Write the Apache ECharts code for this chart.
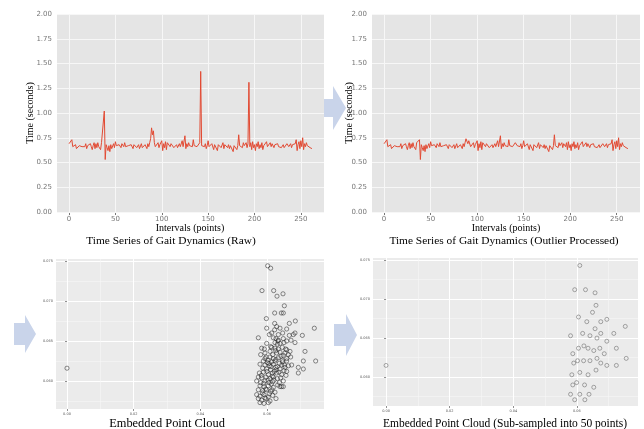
<!DOCTYPE html>
<html>
<head>
<meta charset="utf-8">
<title>Gait Dynamics</title>
<script src="https://cdn.jsdelivr.net/npm/echarts@6/dist/echarts.min.js"></script>
<style>body{margin:0;background:#fff;}</style>
</head>
<body>
<div id="chart" style="width:644px;height:429px;"></div>
<script>
// stride intervals (seconds), raw
var rawTimes = [
  0.69, 0.68, 0.70, 0.73, 0.66, 0.67, 0.65, 0.68, 0.64, 0.66,
  0.63, 0.67, 0.65, 0.68, 0.66, 0.64, 0.68, 0.66, 0.69, 0.64,
  0.67, 0.68, 0.65, 0.69, 0.66, 0.63, 0.67, 0.70, 0.64, 0.69,
  0.65, 0.70, 0.66, 0.68, 0.63, 0.70, 0.71, 0.72, 1.02, 0.53,
  0.68, 0.65, 0.62, 0.67, 0.61, 0.68, 0.64, 0.62, 0.69, 0.65,
  0.71, 0.67, 0.69, 0.66, 0.68, 0.67, 0.65, 0.69, 0.67, 0.66,
  0.70, 0.66, 0.68, 0.64, 0.67, 0.69, 0.65, 0.68, 0.66, 0.64,
  0.68, 0.66, 0.69, 0.65, 0.67, 0.68, 0.64, 0.66, 0.69, 0.65,
  0.67, 0.63, 0.68, 0.66, 0.64, 0.69, 0.66, 0.70, 0.74, 0.85,
  0.78, 0.82, 0.70, 0.66, 0.68, 0.64, 0.70, 0.65, 0.68, 0.66,
  0.72, 0.62, 0.69, 0.65, 0.71, 0.63, 0.70, 0.68, 0.70, 0.66,
  0.69, 0.67, 0.68, 0.65, 0.67, 0.66, 0.68, 0.65, 0.67, 0.69,
  0.66, 0.64, 0.72, 0.66, 0.68, 0.77, 0.64, 0.69, 0.66, 0.70,
  0.67, 0.65, 0.69, 0.66, 0.73, 0.67, 0.65, 0.69, 0.66, 0.68,
  0.67, 0.70, 1.42, 0.67, 0.69, 0.68, 0.66, 0.69, 0.64, 0.67,
  0.72, 0.66, 0.68, 0.65, 0.69, 0.67, 0.63, 0.68, 0.66, 0.70,
  0.62, 0.68, 0.66, 0.69, 0.65, 0.67, 0.70, 0.64, 0.68, 0.66,
  0.67, 0.65, 0.68, 0.64, 0.67, 0.66, 0.69, 0.61, 0.67, 0.65,
  0.68, 0.63, 0.67, 0.78, 0.67, 0.66, 0.69, 0.65, 0.70, 0.67,
  0.66, 0.70, 0.65, 0.69, 1.31, 0.66, 0.70, 0.63, 0.71, 0.65,
  0.68, 0.62, 0.69, 0.66, 0.71, 0.64, 0.68, 0.65, 0.70, 0.63,
  0.67, 0.69, 0.65, 0.71, 0.66, 0.68, 0.64, 0.70, 0.66, 0.69,
  0.67, 0.65, 0.68, 0.66, 0.67, 0.69, 0.66, 0.68, 0.67, 0.65,
  0.66, 0.68, 0.65, 0.67, 0.66, 0.69, 0.68, 0.66, 0.67, 0.69,
  0.65, 0.68, 0.70, 0.66, 0.69, 0.73, 0.62, 0.68, 0.71, 0.64,
  0.72, 0.66, 0.75, 0.63, 0.69, 0.66, 0.70, 0.67, 0.66, 0.68,
  0.65, 0.66, 0.64
];

// same series after outlier processing
var processedTimes = [
  0.69, 0.68, 0.70, 0.73, 0.66, 0.67, 0.65, 0.68, 0.64, 0.66,
  0.63, 0.67, 0.65, 0.68, 0.66, 0.64, 0.68, 0.66, 0.69, 0.64,
  0.67, 0.68, 0.65, 0.69, 0.66, 0.63, 0.67, 0.70, 0.64, 0.69,
  0.65, 0.70, 0.66, 0.68, 0.63, 0.70, 0.71, 0.72, 0.73, 0.53,
  0.68, 0.65, 0.62, 0.67, 0.61, 0.68, 0.64, 0.62, 0.69, 0.65,
  0.71, 0.67, 0.69, 0.66, 0.68, 0.67, 0.65, 0.69, 0.67, 0.66,
  0.70, 0.66, 0.68, 0.64, 0.67, 0.69, 0.65, 0.68, 0.66, 0.64,
  0.68, 0.66, 0.69, 0.65, 0.67, 0.68, 0.64, 0.66, 0.69, 0.65,
  0.67, 0.63, 0.68, 0.66, 0.64, 0.69, 0.66, 0.70, 0.74, 0.73,
  0.69, 0.72, 0.70, 0.66, 0.68, 0.64, 0.70, 0.65, 0.68, 0.66,
  0.72, 0.62, 0.69, 0.65, 0.71, 0.63, 0.70, 0.68, 0.70, 0.66,
  0.69, 0.67, 0.68, 0.65, 0.67, 0.66, 0.68, 0.65, 0.67, 0.69,
  0.66, 0.64, 0.72, 0.66, 0.68, 0.77, 0.64, 0.69, 0.66, 0.70,
  0.67, 0.65, 0.69, 0.66, 0.73, 0.67, 0.65, 0.69, 0.66, 0.68,
  0.67, 0.70, 0.69, 0.67, 0.69, 0.68, 0.66, 0.69, 0.64, 0.67,
  0.72, 0.66, 0.68, 0.65, 0.69, 0.67, 0.63, 0.68, 0.66, 0.70,
  0.62, 0.68, 0.66, 0.69, 0.65, 0.67, 0.70, 0.64, 0.68, 0.66,
  0.67, 0.65, 0.68, 0.64, 0.67, 0.66, 0.69, 0.61, 0.67, 0.65,
  0.68, 0.63, 0.67, 0.78, 0.67, 0.66, 0.69, 0.65, 0.70, 0.67,
  0.66, 0.70, 0.65, 0.69, 0.68, 0.66, 0.70, 0.63, 0.71, 0.65,
  0.68, 0.62, 0.69, 0.66, 0.71, 0.64, 0.68, 0.65, 0.70, 0.63,
  0.67, 0.69, 0.65, 0.71, 0.66, 0.68, 0.64, 0.70, 0.66, 0.69,
  0.67, 0.65, 0.68, 0.66, 0.67, 0.69, 0.66, 0.68, 0.67, 0.65,
  0.66, 0.68, 0.65, 0.67, 0.66, 0.69, 0.68, 0.66, 0.67, 0.69,
  0.65, 0.68, 0.70, 0.66, 0.69, 0.73, 0.62, 0.68, 0.71, 0.64,
  0.72, 0.66, 0.75, 0.63, 0.69, 0.66, 0.70, 0.67, 0.66, 0.68,
  0.65, 0.66, 0.64
];

// embedded point cloud, all points
var cloudAll = [
  [0.0000,0.0616],
  [0.0602,0.0744],[0.0611,0.0741],
  [0.0585,0.0713],[0.0620,0.0713],[0.0630,0.0706],[0.0648,0.0709],
  [0.0652,0.0694],
  [0.0623,0.0685],[0.0643,0.0685],[0.0649,0.0685],
  [0.0598,0.0678],[0.0667,0.0672],[0.0685,0.0675],
  [0.0599,0.0666],[0.0623,0.0672],[0.0629,0.0668],[0.0639,0.0666],[0.0623,0.0664],[0.0659,0.0665],[0.0742,0.0666],
  [0.0607,0.0658],[0.0614,0.0660],[0.0634,0.0658],[0.0647,0.0660],[0.0667,0.0657],[0.0679,0.0658],[0.0684,0.0660],[0.0706,0.0657],
  [0.0574,0.0654],[0.0619,0.0654],[0.0627,0.0653],[0.0634,0.0651],[0.0649,0.0653],[0.0659,0.0650],[0.0672,0.0651],
  [0.0599,0.0647],[0.0624,0.0648],[0.0631,0.0646],[0.0639,0.0647],[0.0651,0.0648],[0.0684,0.0648],
  [0.0584,0.0641],[0.0614,0.0642],[0.0624,0.0641],[0.0634,0.0640],[0.0646,0.0642],[0.0659,0.0639],[0.0669,0.0637],
  [0.0581,0.0633],[0.0594,0.0635],[0.0609,0.0637],[0.0629,0.0635],[0.0639,0.0636],[0.0654,0.0635],[0.0664,0.0633],[0.0714,0.0637],
  [0.0594,0.0628],[0.0609,0.0630],[0.0619,0.0628],[0.0634,0.0629],[0.0649,0.0632],[0.0659,0.0628],[0.0671,0.0630],
  [0.0589,0.0625],[0.0601,0.0623],[0.0614,0.0624],[0.0624,0.0625],[0.0637,0.0622],[0.0647,0.0624],[0.0659,0.0625],[0.0709,0.0625],[0.0746,0.0625],
  [0.0579,0.0621],[0.0594,0.0620],[0.0607,0.0619],[0.0619,0.0621],[0.0631,0.0618],[0.0644,0.0620],[0.0654,0.0617],[0.0664,0.0619],[0.0674,0.0620],
  [0.0587,0.0616],[0.0599,0.0615],[0.0611,0.0614],[0.0627,0.0614],[0.0639,0.0615],[0.0651,0.0613],[0.0659,0.0612],[0.0694,0.0617],[0.0709,0.0615],
  [0.0577,0.0610],[0.0589,0.0611],[0.0604,0.0608],[0.0616,0.0610],[0.0629,0.0610],[0.0644,0.0608],[0.0657,0.0607],[0.0694,0.0610],
  [0.0574,0.0605],[0.0584,0.0604],[0.0597,0.0605],[0.0609,0.0603],[0.0619,0.0605],[0.0631,0.0603],[0.0641,0.0604],
  [0.0569,0.0600],[0.0581,0.0598],[0.0594,0.0600],[0.0606,0.0598],[0.0617,0.0599],[0.0637,0.0598],[0.0649,0.0600],
  [0.0579,0.0594],[0.0591,0.0593],[0.0604,0.0594],[0.0619,0.0592],[0.0639,0.0593],[0.0644,0.0593],[0.0649,0.0593],
  [0.0574,0.0589],[0.0587,0.0588],[0.0599,0.0589],[0.0611,0.0587],[0.0624,0.0586],
  [0.0569,0.0583],[0.0579,0.0581],[0.0591,0.0583],[0.0604,0.0580],[0.0617,0.0582],
  [0.0574,0.0578],[0.0584,0.0576],[0.0597,0.0578],[0.0609,0.0575],[0.0627,0.0578],
  [0.0579,0.0573],[0.0591,0.0572],[0.0604,0.0573],
  [0.0592,0.0640],[0.0617,0.0633],[0.0627,0.0627],[0.0612,0.0618],[0.0622,0.0612],[0.0603,0.0601],
  [0.0613,0.0596],[0.0596,0.0590],[0.0583,0.0607],[0.0636,0.0611],[0.0646,0.0626],[0.0626,0.0638],
  [0.0606,0.0622],[0.0600,0.0612],[0.0590,0.0597],[0.0586,0.0585],[0.0615,0.0589],[0.0632,0.0595],
  [0.0652,0.0620],[0.0642,0.0631],[0.0611,0.0643],[0.0597,0.0630],[0.0621,0.0601],[0.0607,0.0584],
  [0.0594,0.0579],[0.0656,0.0640],[0.0633,0.0650],[0.0603,0.0626],[0.0626,0.0617],[0.0616,0.0606]
];

// embedded point cloud, sub-sampled to 50 points
var cloudSub = [
  [0.0609,0.0743],[0.0593,0.0712],[0.0627,0.0712],[0.0657,0.0708],[0.0660,0.0692],
  [0.0649,0.0683],[0.0605,0.0677],[0.0631,0.0671],[0.0675,0.0671],[0.0694,0.0674],
  [0.0752,0.0665],[0.0657,0.0662],[0.0580,0.0653],[0.0618,0.0656],[0.0641,0.0653],
  [0.0663,0.0650],[0.0675,0.0656],[0.0716,0.0656],[0.0694,0.0646],[0.0622,0.0640],
  [0.0605,0.0637],[0.0635,0.0637],[0.0653,0.0634],[0.0672,0.0637],[0.0724,0.0637],
  [0.0587,0.0630],[0.0686,0.0630],[0.0663,0.0624],[0.0755,0.0624],[0.0602,0.0621],
  [0.0621,0.0621],[0.0641,0.0621],[0.0590,0.0618],[0.0675,0.0618],[0.0694,0.0615],
  [0.0724,0.0615],[0.0660,0.0609],[0.0609,0.0606],[0.0584,0.0603],[0.0635,0.0603],
  [0.0599,0.0593],[0.0587,0.0590],[0.0624,0.0590],[0.0653,0.0587],[0.0580,0.0578],
  [0.0609,0.0578],[0.0638,0.0578],[0.0593,0.0571],[0.0625,0.0571],[0.0000,0.0615]
];

var intervalTicks = [0, 50, 100, 150, 200, 250];
var timeTicks = [0, 0.25, 0.5, 0.75, 1, 1.25, 1.5, 1.75, 2];
var cloudXTicks = [0, 0.02, 0.04, 0.06];
var cloudYTicks = [0.060, 0.065, 0.070, 0.075];

var serif = 'Liberation Serif';
var sans = 'DejaVu Sans';
var arrowColor = '#c9d4ea';
var timeBg = '#e5e5e5';

function toPairs(arr) {
  return arr.map(function (v, i) { return [i, v]; });
}

// white panel grid for the time-series plots, placed through the axes
function timeGridLines() {
  var data = intervalTicks.map(function (v) { return { xAxis: v }; })
    .concat(timeTicks.map(function (v) { return { yAxis: v }; }));
  return {
    silent: true, z: 1, animation: false,
    symbol: ['none', 'none'],
    label: { show: false },
    lineStyle: { color: '#f7f7f7', width: 1, type: 'solid' },
    emphasis: { disabled: true },
    data: data
  };
}

function timeXAxis(gi) {
  return {
    type: 'value', gridIndex: gi, min: -13, max: 275,
    axisLine: { show: false },
    axisTick: { show: true, length: 3, lineStyle: { color: '#777' }, customValues: intervalTicks },
    axisLabel: { customValues: intervalTicks, color: '#777', fontSize: 7, fontFamily: sans, margin: 4 },
    splitLine: { show: false }
  };
}

function timeYAxis(gi) {
  return {
    type: 'value', gridIndex: gi, min: 0, max: 2, interval: 0.25,
    axisLine: { show: false },
    axisTick: { show: true, length: 3, lineStyle: { color: '#777' }, customValues: timeTicks },
    axisLabel: { customValues: timeTicks, color: '#777', fontSize: 7, fontFamily: sans, margin: 5,
      formatter: function (v) { return v.toFixed(2); } },
    splitLine: { show: false }
  };
}

function cloudXAxis(gi, min, max) {
  return {
    type: 'value', gridIndex: gi, min: min, max: max, splitNumber: 5,
    axisLine: { show: false },
    axisTick: { show: true, length: 2, lineStyle: { color: '#444', width: 0.6 }, customValues: cloudXTicks },
    axisLabel: { customValues: cloudXTicks, color: '#555', fontSize: 3.5, fontFamily: sans, margin: 3,
      formatter: function (v) { return v.toFixed(2); } },
    splitLine: { show: true, lineStyle: { color: '#fff', width: 1 } },
    minorTick: { show: false, splitNumber: 2 },
    minorSplitLine: { show: true, lineStyle: { color: '#f6f6f6', width: 0.6 } }
  };
}

function cloudYAxis(gi, min, max) {
  return {
    type: 'value', gridIndex: gi, min: min, max: max, splitNumber: 4,
    axisLine: { show: false },
    axisTick: { show: true, length: 2, lineStyle: { color: '#444', width: 0.6 }, customValues: cloudYTicks },
    axisLabel: { customValues: cloudYTicks, color: '#555', fontSize: 3.5, fontFamily: sans, margin: 3,
      formatter: function (v) { return v.toFixed(3); } },
    splitLine: { show: true, lineStyle: { color: '#fff', width: 1 } },
    minorTick: { show: false, splitNumber: 2 },
    minorSplitLine: { show: true, lineStyle: { color: '#f6f6f6', width: 0.6 } }
  };
}

function caption(text, x, y, size, rot) {
  return {
    type: 'text', x: x, y: y, z: 10, rotation: rot || 0,
    style: { text: text, fill: '#000', font: size + 'px "' + serif + '"',
      textAlign: 'center', textVerticalAlign: 'middle' }
  };
}

function arrow(x0, x1, x2, yMid, shaftHalf, headHalf) {
  return {
    type: 'polygon', z: -1,
    shape: { points: [
      [x0, yMid - shaftHalf], [x1, yMid - shaftHalf], [x1, yMid - headHalf],
      [x2, yMid], [x1, yMid + headHalf], [x1, yMid + shaftHalf], [x0, yMid + shaftHalf]
    ] },
    style: { fill: arrowColor }
  };
}

var chart = echarts.init(document.getElementById('chart'));
chart.setOption({
  animation: false,
  backgroundColor: '#fff',
  grid: [
    { left: 57, top: 14, width: 267, height: 198, show: true, backgroundColor: timeBg, borderWidth: 0 },
    { left: 372, top: 14, width: 268, height: 198, show: true, backgroundColor: timeBg, borderWidth: 0 },
    { left: 56, top: 259, width: 268, height: 150, show: true, backgroundColor: '#ebebeb', borderWidth: 0 },
    { left: 373, top: 258, width: 265, height: 148, show: true, backgroundColor: '#ebebeb', borderWidth: 0 }
  ],
  xAxis: [
    timeXAxis(0),
    timeXAxis(1),
    cloudXAxis(2, -0.0033, 0.0771),
    cloudXAxis(3, -0.0041, 0.0792)
  ],
  yAxis: [
    timeYAxis(0),
    timeYAxis(1),
    cloudYAxis(2, 0.0565, 0.07525),
    cloudYAxis(3, 0.0563, 0.07526)
  ],
  graphic: [
    arrow(323, 333, 346, 108, 9, 22),
    arrow(14, 25, 36, 334, 11, 19),
    arrow(334, 346, 357, 335, 11, 21),
    caption('Intervals (points)', 190, 228, 10),
    caption('Intervals (points)', 506, 228, 10),
    caption('Time (seconds)', 30, 113, 10, Math.PI / 2),
    caption('Time (seconds)', 349, 113, 10, Math.PI / 2),
    caption('Time Series of Gait Dynamics (Raw)', 171, 241, 11.4),
    caption('Time Series of Gait Dynamics (Outlier Processed)', 504, 241, 11.4),
    caption('Embedded Point Cloud', 167, 424, 12.4),
    caption('Embedded Point Cloud (Sub-sampled into 50 points)', 505, 424, 11.5)
  ],
  series: [
    {
      type: 'line', xAxisIndex: 0, yAxisIndex: 0, data: toPairs(rawTimes),
      showSymbol: false, symbol: 'none', z: 3,
      lineStyle: { color: '#e24a33', width: 1 },
      markLine: timeGridLines()
    },
    {
      type: 'line', xAxisIndex: 1, yAxisIndex: 1, data: toPairs(processedTimes),
      showSymbol: false, symbol: 'none', z: 3,
      lineStyle: { color: '#e24a33', width: 1 },
      markLine: timeGridLines()
    },
    {
      type: 'scatter', xAxisIndex: 2, yAxisIndex: 2, data: cloudAll,
      symbol: 'circle', symbolSize: 4.2,
      itemStyle: { color: 'rgba(0,0,0,0)', borderColor: 'rgba(30,30,30,0.8)', borderWidth: 0.8 }
    },
    {
      type: 'scatter', xAxisIndex: 3, yAxisIndex: 3, data: cloudSub,
      symbol: 'circle', symbolSize: 4,
      itemStyle: { color: 'rgba(0,0,0,0)', borderColor: 'rgba(80,80,80,0.75)', borderWidth: 0.8 }
    }
  ]
});
</script>
</body>
</html>
